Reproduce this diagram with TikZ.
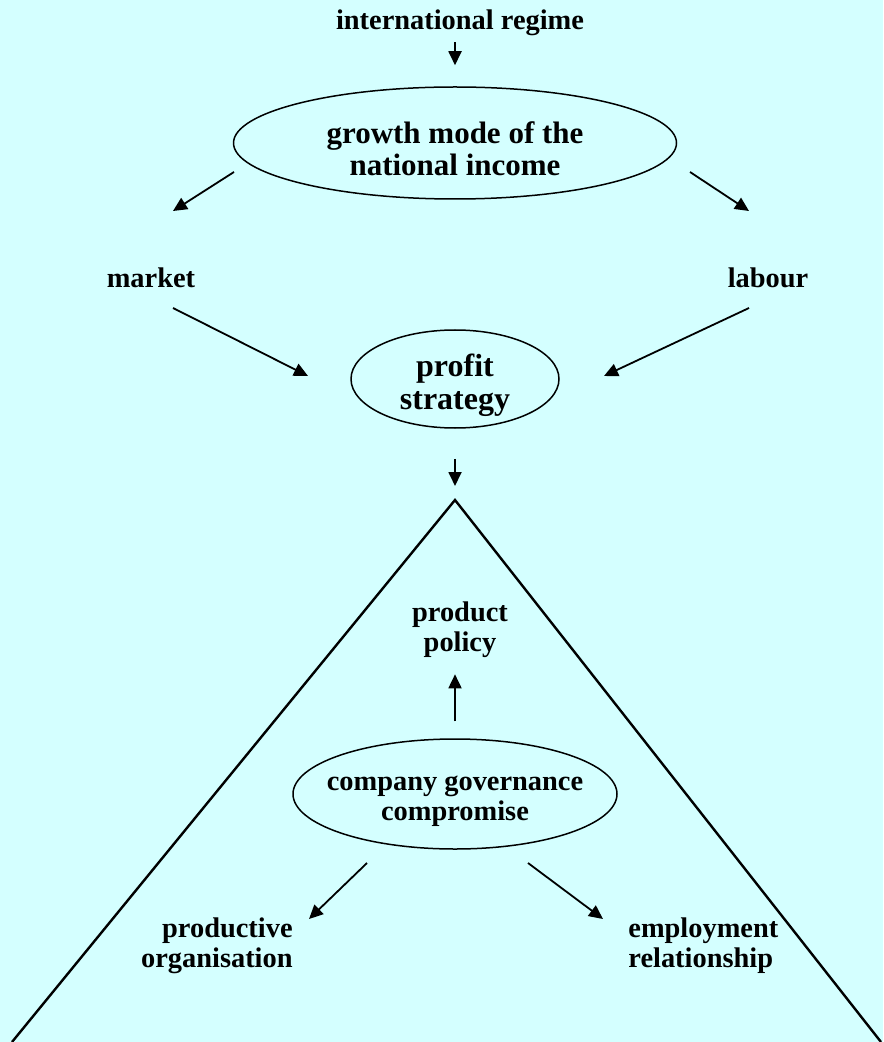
\documentclass[tikz,border=0pt]{standalone}
\usepackage{fontspec}
\setmainfont{Liberation Serif}
\usepackage{xcolor}
\usepackage{tikz}
\usetikzlibrary{shapes.geometric, arrows.meta, positioning}

\definecolor{bgcyan}{RGB}{212,255,255}

\begin{document}
\begin{tikzpicture}[
    x=0.5pt, y=-0.5pt,
    lbl/.style={font=\bfseries\fontsize{14.2}{15}\selectfont, align=center, inner sep=0pt},
    oval/.style={draw, ellipse, line width=0.75pt, inner sep=0pt},
    arrow/.style={-{Triangle[length=7pt, width=6.5pt]}, line width=0.9pt}
]
    % background and page size
    \fill[bgcyan] (0,0) rectangle (883,1042);
    \useasboundingbox (0,0) rectangle (883,1042);

    % upper part
    \node[lbl] (intl) at (460,23) {international regime};
    \node[oval, minimum width=221.5pt, minimum height=56pt] (growth) at (455,143) {};
    \node[lbl, font=\bfseries\fontsize{15.5}{16}\selectfont] (growthtxt) at ([yshift=-3pt]growth.center) {growth mode of the\\national income};
    \node[lbl] (market) at (151,278) {market};
    \node[lbl] (labour) at (768,278) {labour};
    \node[oval, minimum width=104pt, minimum height=49pt] (profit) at (455,379) {};
    \node[lbl, font=\bfseries\fontsize{16}{16.5}\selectfont] (profittxt) at ([yshift=-3pt]profit.center) {profit\\strategy};

    \coordinate (gl) at (234,172);  \coordinate (ml) at (173,211);
    \coordinate (gr) at (690,172);  \coordinate (mr) at (749,211);
    \coordinate (mo) at (173,308);  \coordinate (po) at (308,376);
    \coordinate (lo) at (749,308);  \coordinate (pl) at (604,376);

    \draw[arrow, shorten <=3pt, shorten >=10.5pt] (growth.north |- intl.south) -- (growth.north);
    \draw[arrow] (gl) -- (ml);
    \draw[arrow] (gr) -- (mr);
    \draw[arrow] (mo) -- (po);
    \draw[arrow] (lo) -- (pl);

    % the firm
    \coordinate (apex) at (455,500);
    \draw[line width=1.2pt] (12,1042) -- (apex) -- (881,1042);
    \draw[arrow, shorten <=15pt, shorten >=7pt] (profit.south) -- (apex);

    \node[lbl] (policy) at (460,630) {product\\policy};
    \node[oval, minimum width=162pt, minimum height=55pt] (company) at (455,794) {};
    \node[lbl] (companytxt) at ([yshift=-3.5pt]company.center) {company governance\\compromise};
    \node[lbl, align=right, anchor=north east] (prodorg) at (293,917) {productive\\organisation};
    \node[lbl, align=left, anchor=north west] (employ) at (628,917) {employment\\relationship};

    \coordinate (cl) at (367,863);  \coordinate (ol) at (309,919);
    \coordinate (cr) at (528,863);  \coordinate (er) at (603,919);

    \draw[arrow, shorten <=8.5pt, shorten >=8pt] (company.north) -- (company.north |- policy.south);
    \draw[arrow] (cl) -- (ol);
    \draw[arrow] (cr) -- (er);
\end{tikzpicture}
\end{document}
